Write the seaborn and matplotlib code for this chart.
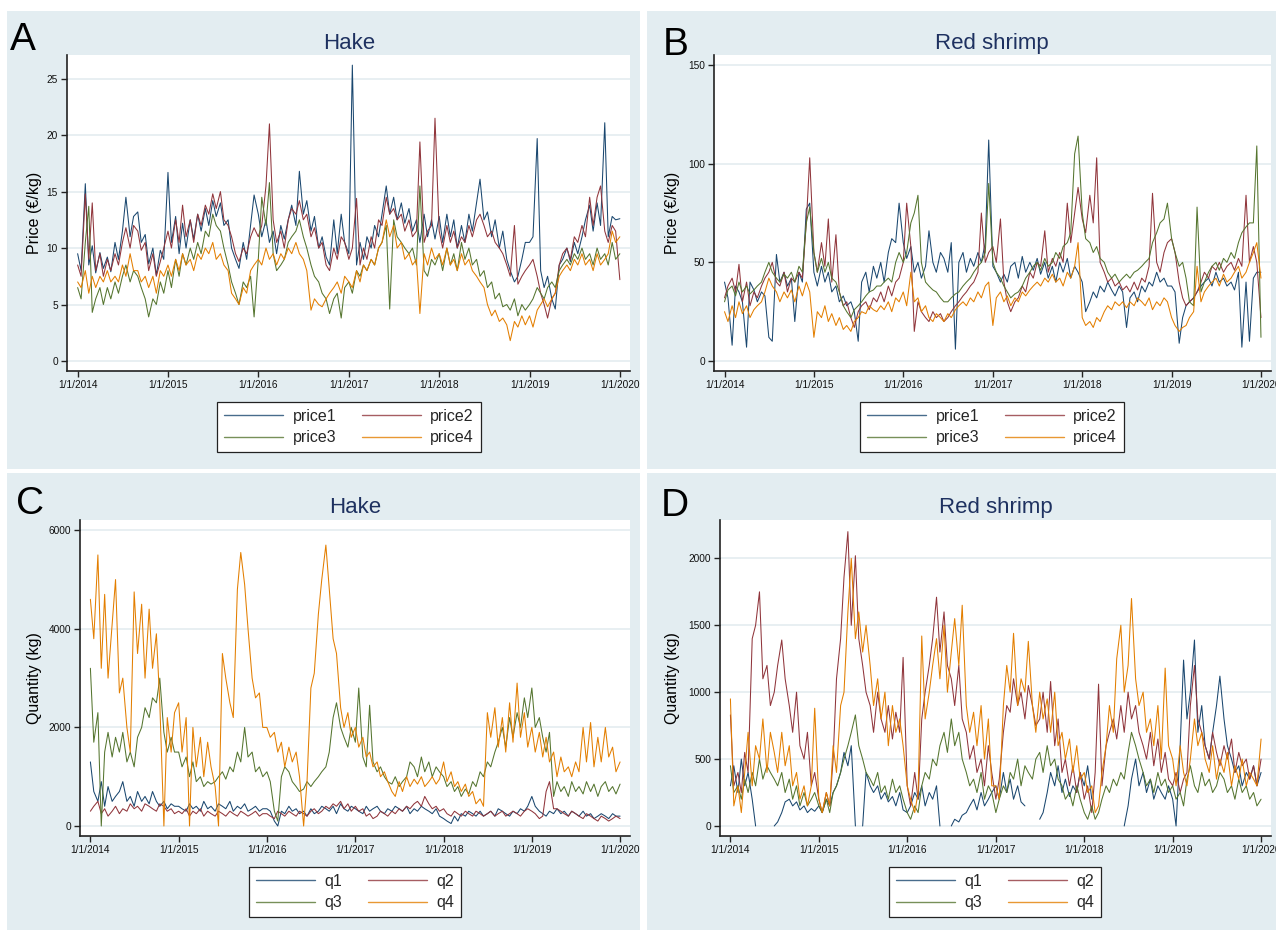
import numpy as np
import pandas as pd
import matplotlib
matplotlib.use('Agg')
import matplotlib.pyplot as plt
from matplotlib.patches import Rectangle
from matplotlib.lines import Line2D
import seaborn as sns

NA = np.nan

# semi-monthly grid (1st and 15th), 1/1/2014 .. 1/1/2020
dates = pd.date_range('2014-01-01', '2020-01-01', freq='SMS')
years = [2014, 2015, 2016, 2017, 2018, 2019, 2020]
year_labels = ['1/1/%d' % y for y in years]

# ---- A: hake price (EUR/kg) ----
hake_price1 = [
    9.5, 8.0, 15.7, 8.5, 10.2, 7.8, 9.6, 8.2, 9.2, 7.9, 10.5, 9.0, 11.5, 14.5, 11.0, 12.8, 13.2, 10.5, 11.2, 8.6, 10.0, 7.6, 9.8, 9.0,
    16.7, 10.5, 12.8, 9.5, 12.2, 10.0, 12.5, 10.8, 13.0, 11.5, 13.5, 12.0, 14.2, 12.8, 14.0, 12.0, 12.5, 10.0, 9.0, 8.2, 10.5, 9.0, 12.0, 14.7,
    13.0, 11.0, 12.5, 10.5, 11.5, 9.5, 12.0, 10.8, 12.5, 13.8, 12.0, 16.8, 13.0, 14.2, 11.5, 12.8, 10.0, 11.0, 9.2, 8.5, 12.5, 9.5, 13.0, 10.5,
    9.5, 26.2, 8.5, 10.5, 9.0, 11.0, 10.0, 12.0, 11.0, 13.0, 15.5, 13.0, 14.5, 12.5, 14.0, 12.2, 13.5, 11.5, 12.5, 10.5, 13.0, 11.0, 12.5, 10.8,
    12.8, 10.5, 13.0, 11.0, 12.5, 10.0, 12.0, 10.5, 13.0, 11.5, 14.0, 16.1, 12.5, 13.2, 11.0, 12.5, 10.0, 11.5, 9.0, 8.0, 7.0, 7.5, 9.0, 10.5,
    10.5, 11.0, 19.7, 8.0, 6.5, 7.5, 5.5, 4.6, 8.5, 9.0, 10.0, 8.8, 10.5, 9.5, 11.0, 12.5, 13.8, 11.5, 14.0, 12.0, 21.1, 11.0, 12.8, 12.5, 12.6]
hake_price2 = [
    8.5, 7.5, 14.8, 9.0, 14.0, 8.0, 9.5, 7.5, 9.0, 8.0, 9.5, 8.5, 10.5, 11.8, 10.0, 12.0, 11.5, 9.8, 10.5, 8.0, 9.5, 7.5, 8.8, 10.0,
    11.5, 10.0, 12.5, 10.5, 13.8, 11.0, 12.5, 10.5, 13.0, 12.0, 13.8, 13.0, 14.8, 13.5, 15.0, 12.5, 12.0, 11.0, 9.5, 8.8, 10.0, 9.5, 11.0, 11.8,
    11.0, 12.0, 15.5, 21.0, 12.5, 10.5, 11.5, 10.0, 12.5, 13.5, 13.0, 14.2, 12.5, 13.0, 11.0, 11.8, 10.0, 10.5, 8.5, 8.0, 10.0, 9.0, 11.0, 10.5,
    9.0, 10.0, 14.4, 8.5, 10.0, 9.0, 11.0, 10.0, 12.5, 12.0, 14.5, 13.0, 13.5, 12.5, 13.0, 11.5, 12.5, 11.0, 11.5, 19.4, 10.5, 11.5, 12.0, 21.5,
    11.5, 10.0, 12.0, 10.5, 11.5, 10.0, 11.0, 10.5, 12.0, 11.0, 12.5, 13.0, 12.0, 11.0, 11.5, 10.5, 10.0, 9.5, 8.5, 7.5, 12.0, 6.8, 7.5, 8.0,
    8.5, 9.0, 7.5, 6.0, 5.0, 3.8, 5.5, 6.0, 8.5, 9.5, 10.0, 9.0, 11.0, 10.5, 12.0, 11.0, 14.5, 12.0, 14.5, 15.5, 11.5, 10.5, 12.0, 11.5, 7.2]
hake_price3 = [
    6.5, 5.5, 10.5, 13.7, 4.3, 5.5, 6.5, 5.0, 6.5, 5.5, 7.0, 6.0, 7.5, 8.5, 7.0, 8.0, 7.5, 6.5, 5.5, 3.9, 5.5, 5.0, 7.0, 6.0,
    8.0, 6.5, 9.0, 7.5, 9.5, 8.5, 10.0, 9.0, 10.5, 9.5, 11.5, 11.0, 13.0, 12.0, 11.5, 10.0, 8.5, 7.0, 6.0, 5.0, 7.0, 6.5, 7.5, 3.9,
    9.0, 14.5, 12.0, 15.8, 9.5, 8.0, 8.5, 9.0, 10.5, 11.0, 11.5, 12.5, 11.0, 10.0, 8.5, 7.5, 7.0, 6.0, 5.5, 4.2, 5.5, 6.0, 3.8, 6.5,
    7.0, 6.0, 8.0, 7.5, 8.5, 8.0, 9.0, 8.5, 10.0, 10.5, 12.0, 4.6, 12.5, 11.0, 10.5, 10.0, 9.5, 10.0, 8.5, 15.5, 8.0, 7.5, 9.0, 8.5,
    9.5, 8.0, 10.0, 8.5, 9.5, 8.0, 10.5, 9.0, 10.0, 8.5, 9.0, 7.5, 8.0, 6.5, 7.0, 5.5, 6.0, 4.8, 5.0, 4.5, 5.5, 4.0, 5.0, 4.5,
    5.0, 5.5, 6.5, 6.0, 5.5, 6.5, 7.0, 6.5, 8.0, 8.5, 9.0, 8.5, 9.5, 9.0, 10.0, 9.0, 9.5, 8.5, 10.0, 9.0, 9.5, 8.5, 10.5, 9.0, 9.5]
hake_price4 = [
    7.0, 6.5, 8.0, 6.0, 7.5, 6.5, 7.5, 7.0, 8.0, 7.0, 7.5, 7.0, 8.5, 7.5, 9.5, 8.0, 8.0, 7.0, 7.5, 6.5, 7.5, 6.0, 8.0, 7.5,
    8.5, 7.5, 9.0, 8.0, 9.5, 8.5, 9.0, 8.0, 9.5, 9.0, 10.0, 9.5, 10.5, 9.0, 9.5, 8.5, 8.0, 6.0, 5.5, 5.0, 6.5, 6.0, 8.0, 8.5,
    9.0, 8.5, 10.0, 9.0, 9.5, 8.5, 9.5, 9.0, 10.0, 9.5, 10.5, 9.5, 9.0, 8.0, 4.5, 5.5, 5.0, 4.8, 5.5, 6.0, 6.5, 7.0, 6.0, 7.5,
    7.0, 6.5, 8.0, 7.0, 8.5, 8.0, 9.0, 8.5, 10.0, 10.5, 12.5, 11.0, 12.0, 10.0, 10.5, 9.0, 9.5, 8.5, 9.0, 4.2, 9.5, 8.5, 10.0, 9.0,
    9.5, 8.5, 10.0, 8.5, 9.0, 8.0, 9.5, 8.5, 9.0, 8.0, 7.5, 7.0, 6.5, 5.0, 4.0, 4.5, 3.5, 3.8, 3.2, 1.8, 3.5, 3.0, 4.0, 3.2,
    4.0, 3.0, 4.5, 5.0, 5.5, 4.8, 5.5, 6.0, 7.5, 8.0, 8.5, 8.0, 9.0, 8.5, 9.5, 8.5, 9.0, 8.0, 9.5, 8.5, 9.0, 9.5, 11.5, 10.5, 11.0]

# ---- B: red shrimp price (EUR/kg) ----
shrimp_price1 = [
    40, 32, 8, 38, 35, 30, 7, 40, 36, 30, 35, 33, 12, 10, 54, 40, 45, 38, 42, 20, 45, 40, 77, 80,
    45, 38, 48, 40, 45, 35, 38, 30, 33, 28, 30, 25, 10, 40, 45, 35, 48, 42, 50, 40, 55, 62, 60, 80,
    60, 52, 58, 45, 50, 42, 48, 66, 50, 45, 55, 52, 45, 60, 6, 50, 55, 45, 52, 48, 55, 50, 60, 112,
    48, 45, 40, 44, 40, 48, 50, 42, 53, 45, 50, 46, 52, 44, 50, 42, 48, 40, 50, 45, 52, 42, 48, 45,
    40, 25, 30, 35, 32, 38, 35, 40, 36, 33, 38, 35, 17, 32, 35, 30, 38, 35, 40, 38, 45, 40, 42, 38,
    38, 35, 9, 22, 28, 30, 32, 35, 38, 40, 42, 38, 45, 40, 42, 38, 40, 36, 45, 7, 40, 10, 42, 45, 45]
shrimp_price2 = [
    32, 38, 42, 35, 49, 30, 40, 28, 35, 32, 38, 42, 45, 50, 40, 38, 45, 35, 42, 40, 45, 42, 70, 103,
    55, 45, 60, 48, 72, 40, 64, 35, 28, 30, 22, 17, 25, 28, 30, 26, 32, 30, 35, 30, 38, 33, 40, 42,
    50, 80, 58, 15, 30, 25, 22, 20, 25, 22, 24, 20, 22, 25, 28, 30, 33, 35, 38, 40, 45, 75, 50, 55,
    58, 50, 72, 40, 30, 25, 30, 32, 38, 35, 45, 42, 50, 48, 66, 45, 52, 48, 55, 50, 80, 60, 75, 88,
    72, 65, 84, 70, 103, 50, 45, 40, 42, 38, 40, 36, 38, 35, 40, 36, 42, 40, 48, 85, 50, 45, 55, 60,
    62, 55, 40, 32, 28, 30, 32, 35, 40, 45, 42, 48, 46, 50, 45, 48, 50, 46, 52, 48, 84, 50, 58, 50, 22]
shrimp_price3 = [
    30, 36, 38, 33, 40, 35, 38, 34, 36, 38, 40, 45, 50, 45, 42, 40, 44, 42, 45, 40, 48, 45, 70, 78,
    55, 45, 52, 45, 50, 42, 40, 35, 28, 25, 22, 26, 28, 30, 33, 35, 36, 38, 38, 40, 42, 40, 50, 55,
    50, 55, 70, 75, 84, 50, 40, 38, 36, 35, 32, 30, 30, 32, 34, 35, 38, 40, 42, 45, 48, 50, 55, 90,
    50, 45, 42, 38, 35, 32, 34, 35, 38, 42, 45, 48, 50, 46, 52, 48, 50, 55, 52, 58, 60, 65, 105, 114,
    75, 62, 60, 55, 58, 52, 50, 45, 42, 44, 40, 42, 44, 42, 45, 46, 48, 50, 52, 60, 65, 70, 72, 80,
    62, 55, 48, 50, 42, 30, 28, 78, 35, 40, 45, 48, 50, 46, 52, 50, 55, 52, 60, 65, 68, 70, 70, 109, 12]
shrimp_price4 = [
    25, 20, 28, 22, 30, 24, 28, 22, 26, 28, 30, 35, 42, 38, 35, 30, 35, 32, 36, 30, 38, 33, 40, 35,
    12, 25, 22, 28, 20, 24, 18, 22, 16, 18, 15, 20, 22, 25, 24, 28, 26, 25, 28, 26, 30, 25, 32, 30,
    35, 28, 45, 30, 32, 25, 28, 22, 20, 24, 22, 20, 24, 22, 26, 28, 30, 28, 32, 30, 35, 32, 38, 40,
    18, 32, 35, 30, 33, 28, 32, 30, 35, 33, 36, 38, 40, 38, 42, 40, 44, 40, 42, 38, 45, 42, 48, 60,
    22, 18, 20, 17, 22, 20, 25, 28, 26, 30, 28, 30, 27, 30, 28, 32, 30, 28, 32, 26, 30, 28, 32, 30,
    22, 18, 15, 17, 18, 22, 25, 48, 30, 35, 38, 40, 42, 38, 44, 40, 42, 45, 48, 42, 45, 50, 55, 60, 42]

# ---- C: hake quantity (kg) ----
hake_q1 = [
    1300, 700, 500, 900, 400, 800, 500, 600, 700, 900, 500, 600, 400, 700, 500, 600, 450, 700, 500, 400, 500, 350, 450, 400,
    400, 350, 300, 450, 350, 400, 300, 500, 350, 400, 300, 450, 400, 350, 500, 300, 400, 350, 450, 300, 350, 400, 300, 350,
    350, 300, 100, 0, 300, 250, 400, 300, 350, 250, 300, 200, 350, 250, 300, 400, 350, 300, 400, 250, 450, 350, 300, 400,
    350, 300, 250, 400, 300, 350, 400, 300, 250, 350, 300, 400, 350, 300, 400, 250, 350, 300, 400, 350, 300, 250, 350, 200,
    150, 100, 50, 200, 100, 250, 200, 300, 250, 200, 300, 200, 250, 300, 200, 350, 300, 250, 200, 300, 250, 350, 300, 400,
    600, 400, 300, 250, 200, 300, 250, 350, 250, 300, 200, 300, 250, 200, 300, 200, 250, 150, 200, 250, 200, 150, 250, 200, 200]
hake_q2 = [
    300, 400, 500, 250, 350, 200, 300, 400, 250, 350, 300, 450, 350, 400, 300, 450, 400, 350, 300, 450, 400, 300, 350, 250,
    300, 250, 350, 200, 300, 250, 350, 200, 300, 250, 200, 300, 250, 200, 300, 250, 200, 300, 250, 200, 250, 300, 200, 250,
    250, 200, 150, 300, 250, 200, 300, 250, 200, 300, 250, 200, 300, 350, 250, 300, 400, 350, 450, 400, 500, 350, 450, 300,
    400, 300, 350, 200, 250, 150, 200, 300, 250, 200, 300, 250, 350, 300, 400, 350, 450, 500, 400, 600, 450, 350, 400, 300,
    350, 250, 200, 300, 250, 200, 300, 250, 200, 300, 250, 200, 250, 300, 200, 250, 300, 200, 250, 300, 250, 200, 300, 350,
    300, 250, 150, 200, 700, 900, 350, 350, 300, 250, 200, 300, 250, 200, 150, 250, 200, 150, 100, 200, 150, 100, 150, 200, 150]
hake_q3 = [
    3200, 1700, 2300, 0, 1500, 1900, 1400, 1800, 1500, 1900, 1300, 1500, 1200, 1800, 2000, 2400, 2200, 2600, 2500, 3000, 1900, 1500, 1800, 1500,
    1500, 1200, 1400, 1000, 1300, 900, 1000, 800, 900, 850, 900, 1000, 1100, 950, 1200, 1100, 1500, 1300, 2000, 1400, 1500, 1100, 1200, 1000,
    1100, 900, 300, 100, 1000, 1200, 1100, 900, 800, 700, 750, 900, 800, 900, 1000, 1100, 1200, 1500, 2200, 2500, 2000, 1800, 1600, 2000,
    1700, 2800, 1400, 1200, 2450, 1300, 1100, 1200, 1000, 900, 850, 1000, 800, 900, 1000, 1300, 1200, 1000, 1400, 1100, 1300, 1000, 1200, 1100,
    1000, 800, 900, 700, 800, 600, 750, 650, 900, 800, 1100, 1000, 1300, 1200, 1500, 1700, 2000, 1600, 2200, 1800, 2300, 2000, 2600, 2200,
    2800, 2000, 2200, 1800, 1500, 1900, 600, 900, 700, 800, 600, 900, 700, 800, 650, 900, 700, 850, 600, 800, 900, 700, 800, 650, 850]
hake_q4 = [
    4600, 3800, 5500, 3200, 4700, 3000, 4100, 5000, 2700, 3000, 2000, 1500, 4750, 3500, 4500, 3000, 4400, 3200, 3900, 2500, 0, 2200, 1500, 2300,
    2500, 1500, 2200, 0, 2000, 1200, 1800, 1000, 1700, 1200, 800, 0, 3500, 3000, 2500, 2200, 4800, 5550, 4900, 4000, 3000, 2600, 2700, 2000,
    2000, 1800, 1900, 1500, 1700, 1200, 1600, 1300, 1500, 1000, 0, 900, 2800, 3100, 4300, 5000, 5700, 4800, 3800, 3500, 2400, 2000, 2300, 1800,
    2000, 1600, 1800, 1400, 1500, 1200, 1300, 1000, 1100, 900, 700, 600, 900, 700, 1000, 800, 950, 850, 1000, 800, 900, 1000, 850, 950,
    1300, 900, 1100, 800, 900, 700, 850, 600, 700, 450, 550, 400, 2300, 1800, 2400, 1600, 2200, 1500, 2500, 1700, 2900, 1800, 2300, 1600,
    2000, 1500, 1900, 1400, 1800, 1300, 1500, 1000, 1400, 1100, 1200, 1000, 1300, 1100, 2000, 1300, 2100, 1200, 1800, 1300, 2000, 1400, 1600, 1100, 1300]

# ---- D: red shrimp quantity (kg) ----
shrimp_q1 = [
    300, 450, 250, 500, 300, 400, 200, 0, NA, NA, NA, NA, 0, 30, 100, 180, 200, 150, 180, 120, 150, 100, 130, 110,
    150, 100, 200, 150, 250, 300, 400, 550, 450, 600, 0, NA, 0, 400, 300, 250, 300, 200, 250, 180, 220, 150, 250, 120,
    100, 150, 250, 200, 300, 150, 250, 200, 300, 0, NA, NA, 0, 50, 30, 80, 100, 150, 200, 120, 250, 150, 200, 250,
    300, 200, 400, 250, 350, 200, 300, 180, 150, NA, NA, NA, 50, 100, 250, 400, 300, 450, 250, 350, 220, 300, 250, 400,
    300, 450, 200, NA, NA, NA, NA, NA, NA, NA, NA, 0, 150, 350, 500, 300, 400, 250, 350, 200, 300, 250, 200, 300,
    200, 0, 600, 1240, 800, 1000, 1390, 700, 900, 600, 500, 700, 900, 1120, 800, 600, 500, 400, 450, 300, 400, 350, 450, 300, 400]
shrimp_q2 = [
    830, 300, 400, 250, 550, 400, 1400, 1500, 1750, 1100, 1200, 900, 1000, 1200, 1390, 1100, 900, 700, 1000, 600, 500, 700, 300, 400,
    200, 100, 250, 150, 500, 1100, 1400, 1860, 2200, 1500, 2020, 1400, 1200, 1000, 900, 700, 1000, 800, 700, 900, 650, 850, 700, 1260,
    300, 150, 400, 200, 800, 1000, 1200, 1400, 1710, 1300, 1600, 1200, 1100, 900, 1200, 800, 700, 500, 600, 400, 500, 300, 600, 400,
    200, 350, 700, 900, 850, 1100, 900, 1000, 800, 1050, 900, 750, 800, 1000, 700, 1080, 600, 800, 400, 500, 300, 450, 250, 400,
    200, 300, 100, 400, 1060, 300, 600, 700, 800, 650, 900, 700, 1000, 800, 900, 700, 600, 500, 700, 450, 650, 400, 550, 350,
    300, 400, 250, 350, 400, 900, 1200, 800, 700, 600, 500, 700, 550, 450, 600, 500, 650, 400, 550, 450, 500, 350, 450, 300, 500]
shrimp_q3 = [
    450, 250, 300, 200, 350, 250, 400, 300, 500, 350, 450, 400, 350, 300, 400, 250, 350, 200, 300, 150, 250, 150, 200, 250,
    150, 100, 200, 100, 250, 300, 400, 500, 600, 700, 830, 600, 500, 400, 350, 300, 400, 250, 300, 200, 350, 250, 300, 200,
    100, 50, 150, 100, 300, 400, 350, 500, 450, 600, 700, 550, 800, 600, 700, 500, 400, 300, 350, 250, 400, 200, 300, 250,
    100, 200, 300, 250, 400, 350, 500, 300, 450, 400, 350, 500, 550, 400, 600, 450, 500, 350, 300, 200, 250, 150, 300, 200,
    100, 50, 150, 50, 100, 200, 300, 250, 350, 300, 400, 350, 550, 700, 600, 500, 400, 300, 350, 250, 400, 300, 350, 250,
    300, 200, 250, 150, 350, 450, 300, 250, 400, 300, 350, 250, 300, 400, 350, 250, 300, 200, 350, 250, 300, 200, 250, 150, 200]
shrimp_q4 = [
    950, 150, 300, 100, 400, 700, 300, 600, 500, 800, 400, 700, 550, 400, 700, 450, 600, 300, 400, 200, 300, 150, 300, 880,
    200, 100, 250, 150, 600, 400, 900, 1000, 1600, 2000, 1400, 1600, 1300, 1500, 1200, 900, 1100, 800, 1000, 600, 900, 700, 800, 600,
    300, 200, 100, 250, 1420, 800, 1000, 1200, 1400, 1100, 1500, 1000, 1300, 1550, 1200, 1650, 900, 700, 850, 600, 900, 500, 800, 300,
    300, 200, 900, 1200, 1000, 1440, 900, 1100, 1000, 1380, 900, 700, 1000, 800, 950, 700, 1000, 600, 700, 500, 650, 400, 600, 350,
    400, 250, 300, 100, 150, 400, 600, 900, 700, 1250, 1500, 1000, 1200, 1700, 1100, 900, 1000, 700, 800, 600, 900, 500, 1180, 600,
    500, 300, 600, 400, 300, 500, 800, 600, 700, 500, 400, 600, 350, 500, 400, 550, 300, 450, 350, 500, 300, 400, 350, 300, 650]

colors = ['#1a476f', '#90353b', '#55752f', '#e37e00']
bg = '#e3edf1'

sns.set_theme(style='white')
plt.rcParams['font.family'] = ['Liberation Sans', 'DejaVu Sans']

W, H = 1276, 934
fig = plt.figure(figsize=(W / 100, H / 100), dpi=100)
fig.patch.set_facecolor('white')


def box(l, t, r, b):
    return [l / W, 1 - b / H, (r - l) / W, (b - t) / H]


def fx(x):
    return x / W


def fy(y):
    return 1 - y / H


panels = [
    dict(letter='A', title='Hake', ylabel='Price (€/kg)', bgbox=(7, 11, 640, 469),
         axbox=(67, 55, 630, 371), ylim=(-0.89, 27.1), yticks=[0, 5, 10, 15, 20, 25],
         series=[hake_price1, hake_price2, hake_price3, hake_price4],
         names=['price1', 'price2', 'price3', 'price4'],
         letter_xy=(10, 50), title_xy=(349, 49), ylab_xy=(34, 213), leg_xy=(349, 427)),
    dict(letter='B', title='Red shrimp', ylabel='Price (€/kg)', bgbox=(647, 11, 1276, 469),
         axbox=(714, 55, 1271, 371), ylim=(-5.07, 155.1), yticks=[0, 50, 100, 150],
         series=[shrimp_price1, shrimp_price2, shrimp_price3, shrimp_price4],
         names=['price1', 'price2', 'price3', 'price4'],
         letter_xy=(663, 55), title_xy=(992, 49), ylab_xy=(673, 213), leg_xy=(992, 427)),
    dict(letter='C', title='Hake', ylabel='Quantity (kg)', bgbox=(7, 473, 640, 930),
         axbox=(80, 520, 630, 836), ylim=(-203, 6209), yticks=[0, 2000, 4000, 6000],
         series=[hake_q1, hake_q2, hake_q3, hake_q4],
         names=['q1', 'q2', 'q3', 'q4'],
         letter_xy=(16, 514), title_xy=(355, 513), ylab_xy=(34, 678), leg_xy=(355, 892)),
    dict(letter='D', title='Red shrimp', ylabel='Quantity (kg)', bgbox=(647, 473, 1276, 930),
         axbox=(720, 520, 1271, 836), ylim=(-75, 2287), yticks=[0, 500, 1000, 1500, 2000],
         series=[shrimp_q1, shrimp_q2, shrimp_q3, shrimp_q4],
         names=['q1', 'q2', 'q3', 'q4'],
         letter_xy=(661, 516), title_xy=(996, 513), ylab_xy=(673, 678), leg_xy=(995, 892)),
]

xticks = [pd.Timestamp('%d-01-01' % y) for y in years]
xmin = pd.Timestamp('2014-01-01') - pd.Timedelta(days=43)
xmax = pd.Timestamp('2020-01-01') + pd.Timedelta(days=41)

for p in panels:
    l, t, r, b = p['bgbox']
    fig.patches.append(Rectangle((fx(l), fy(b)), (r - l) / W, (b - t) / H,
                                 transform=fig.transFigure, facecolor=bg,
                                 edgecolor='none', zorder=-10))
    ax = fig.add_axes(box(*p['axbox']))
    ax.set_zorder(1)
    ax.set_facecolor('white')

    for vals, name, c in zip(p['series'], p['names'], colors):
        assert len(vals) == len(dates), (name, len(vals))
        df = pd.DataFrame({'date': dates, 'value': vals})
        # missing days break the line into separate pieces
        df['piece'] = df['value'].isna().cumsum()
        df = df.dropna()
        sns.lineplot(data=df, x='date', y='value', units='piece',
                     estimator=None, ax=ax, color=c, lw=0.75)

    ax.set_xlim(xmin, xmax)
    ax.set_ylim(*p['ylim'])
    ax.set_xticks(xticks)
    ax.set_xticklabels(year_labels)
    ax.set_yticks(p['yticks'])
    ax.set_xlabel('')
    ax.set_ylabel('')
    ax.yaxis.grid(True, color='#e4ecf0', lw=1.2)
    ax.set_axisbelow(True)
    for s in ['top', 'right']:
        ax.spines[s].set_visible(False)
    for s in ['left', 'bottom']:
        ax.spines[s].set_color('#222222')
        ax.spines[s].set_linewidth(1.2)
    ax.tick_params(axis='both', direction='out', length=4.5, width=1.0,
                   color='#222222', labelsize=7.3, labelcolor='#111111', pad=2,
                   left=True, bottom=True)

    # legend laid out row-wise: 1 2 / 3 4
    handles = [Line2D([], [], color=c, lw=1.0, alpha=0.8) for c in colors]
    order = [0, 2, 1, 3]
    leg = ax.legend([handles[i] for i in order], [p['names'][i] for i in order],
                    ncol=2, loc='center',
                    bbox_to_anchor=(fx(p['leg_xy'][0]), fy(p['leg_xy'][1])),
                    bbox_transform=fig.transFigure, fontsize=11.5,
                    handlelength=3.7, handletextpad=0.6, columnspacing=1.6,
                    labelspacing=0.4, borderpad=0.4, frameon=True,
                    fancybox=False, framealpha=1, edgecolor='#222222')
    leg.get_frame().set_linewidth(0.9)

    fig.text(fx(p['letter_xy'][0]), fy(p['letter_xy'][1]), p['letter'],
             fontsize=28, ha='left', va='baseline', color='black')
    fig.text(fx(p['title_xy'][0]), fy(p['title_xy'][1]), p['title'],
             fontsize=16, ha='center', va='baseline', color='#1e3160')
    fig.text(fx(p['ylab_xy'][0]), fy(p['ylab_xy'][1]), p['ylabel'],
             fontsize=11.5, ha='center', va='center', rotation=90, color='black')

fig.savefig('out.png', dpi=100, facecolor='white')
